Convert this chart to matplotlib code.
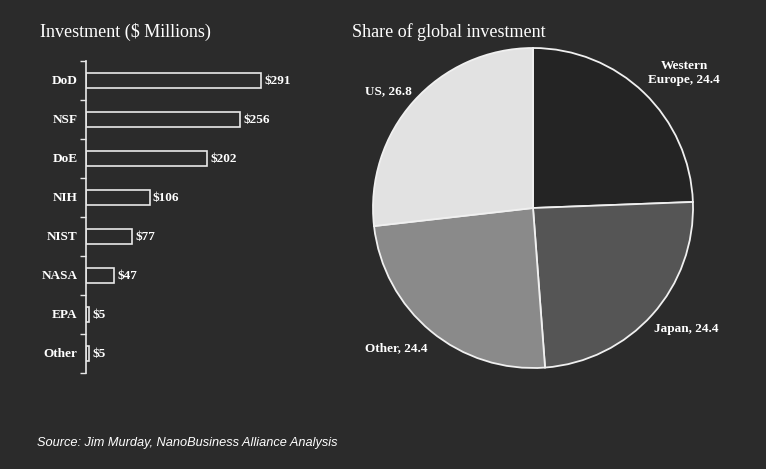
import matplotlib
matplotlib.use("Agg")
import matplotlib.pyplot as plt

# ---- data ----
agencies = ["DoD", "NSF", "DoE", "NIH", "NIST", "NASA", "EPA", "Other"]
investment = [291, 256, 202, 106, 77, 47, 5, 5]
bar_labels = ["$291", "$256", "$202", "$106", "$77", "$47", "$5", "$5"]

regions = ["Western\nEurope", "Japan", "Other", "US"]
shares = [24.4, 24.4, 24.4, 26.8]
slice_colors = ["#242424", "#555555", "#8a8a8a", "#e2e2e2"]

BG = "#2b2b2b"
W, H = 766, 469

fig = plt.figure(figsize=(W / 100, H / 100), dpi=100, facecolor=BG)

serif = ["Liberation Serif", "DejaVu Serif"]

# ---- bar chart ----
axb = fig.add_axes([86 / W, (H - 373) / H, 240 / W, 312 / H])
axb.set_facecolor("none")
ypos = list(range(len(agencies)))
axb.barh(ypos, investment, height=0.41, color=BG, edgecolor="#e8e8e8", linewidth=1.2)
axb.set_xlim(0, 240 / 0.601)
axb.set_ylim(len(agencies) - 0.5, -0.5)
for s in ["top", "right", "bottom"]:
    axb.spines[s].set_visible(False)
axb.spines["left"].set_color("#e8e8e8")
axb.spines["left"].set_linewidth(1.2)
axb.set_xticks([])
axb.set_yticks([i - 0.5 for i in range(len(agencies) + 1)])
axb.set_yticklabels([])
axb.tick_params(axis="y", length=4, color="#e8e8e8", width=1, direction="out")
for i, name in enumerate(agencies):
    axb.text(-0.035, i, name, transform=axb.get_yaxis_transform(), ha="right", va="center",
             color="white", fontsize=9.5, fontweight="bold", family=serif)
for i, (v, lab) in enumerate(zip(investment, bar_labels)):
    axb.annotate(lab, (v, i), xytext=(2.3, 0), textcoords="offset points", ha="left", va="center",
                 color="white", fontsize=9.5, fontweight="bold", family=serif)

fig.text(40 / W, 1 - 32 / H, "Investment ($ Millions)", color="white", fontsize=13,
         family=serif, ha="left", va="center")

# ---- pie chart ----
cx, cy, r = 533, 208, 160
axp = fig.add_axes([(cx - r) / W, (H - cy - r) / H, 2 * r / W, 2 * r / H])
axp.set_facecolor("none")
axp.pie(shares, colors=slice_colors, startangle=90, counterclock=False, radius=1,
        wedgeprops=dict(edgecolor="#f0f0f0", linewidth=1.3))
axp.set_xlim(-1, 1)
axp.set_ylim(-1, 1)
axp.axis("off")

label_pos = [(0.944, 0.844), (0.96, -0.756), (-0.856, -0.875), (-0.906, 0.731)]
for name, val, (x, y) in zip(regions, shares, label_pos):
    axp.text(x, y, f"{name}, {val}", ha="center", va="center", color="white",
             fontsize=9.5, fontweight="bold", family=serif, linespacing=1.15)

fig.text(352 / W, 1 - 32 / H, "Share of global investment", color="white", fontsize=13,
         family=serif, ha="left", va="center")

fig.text(37 / W, 1 - 443 / H, "Source: Jim Murday, NanoBusiness Alliance Analysis",
         color="white", fontsize=9.2, style="italic", family=["Liberation Sans", "DejaVu Sans"],
         ha="left", va="center")

fig.savefig("out.png", dpi=100, facecolor=BG)
